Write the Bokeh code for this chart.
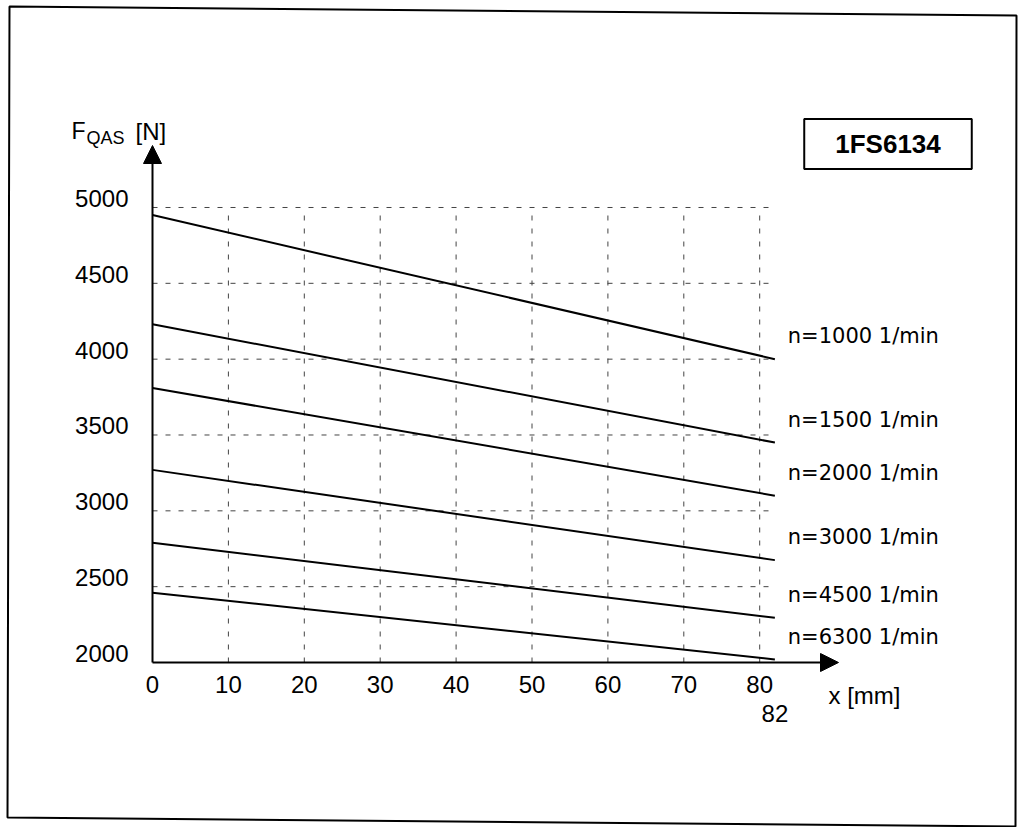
from bokeh.plotting import figure
from bokeh.models import (Range1d, FixedTicker, LinearAxis, Label, Arrow, NormalHead,
                          ColumnDataSource)
from bokeh.core.properties import value
from bokeh.embed import file_html
from bokeh.resources import INLINE

# ---------------- data ----------------
speed_labels = ["n=1000 1/min", "n=1500 1/min", "n=2000 1/min",
                "n=3000 1/min", "n=4500 1/min", "n=6300 1/min"]
x_points = [0, 82]                                   # stroke x [mm]
force_at_0 = [4950, 4230, 3810, 3270, 2790, 2460]    # F_QAS [N] at x = 0
force_at_82 = [4000, 3450, 3100, 2675, 2295, 2020]   # F_QAS [N] at x = 82
x_ticks = [0, 10, 20, 30, 40, 50, 60, 70, 80]
x_end_tick = [82]
y_ticks = [2000, 2500, 3000, 3500, 4000, 4500, 5000]
motor_type = "1FS6134"

# ---------------- layout constants ----------------
W, H = 1022, 827
ORIGIN_X, ORIGIN_Y = 152, 662     # canvas pixel of (x=0, F=2000)
PX_X = 7.59                       # px per mm
PX_Y = 0.15167                    # px per N
y0 = min(y_ticks)
y_top = max(y_ticks)
x_right = max(x_end_tick)


def cx(px):
    return (px - ORIGIN_X) / PX_X


def cy(py):
    return y0 + (ORIGIN_Y - py) / PX_Y


FONT = "Liberation Sans"

p = figure(width=W, height=H,
           x_range=Range1d(cx(0), cx(W)), y_range=Range1d(cy(H), cy(0)),
           x_axis_location=None, y_axis_location=None,
           output_backend="svg", toolbar_location=None,
           min_border=0, min_border_left=0, min_border_right=0,
           min_border_top=0, min_border_bottom=0,
           outline_line_color=None, background_fill_color="white",
           border_fill_color="white")
p.xgrid.visible = False
p.ygrid.visible = False

# label offset range for the y tick labels (they sit just above their grid line)
lab_shift = 9 / PX_Y
p.extra_y_ranges = {"ylab": Range1d(cy(H) - lab_shift, cy(0) - lab_shift)}


def style_axis(ax, standoff):
    ax.axis_line_color = None
    ax.major_tick_line_color = None
    ax.minor_tick_line_color = None
    ax.major_tick_out = 0
    ax.major_tick_in = 0
    ax.major_label_standoff = standoff
    ax.major_label_text_font = FONT
    ax.major_label_text_font_size = "24px"
    ax.major_label_text_color = "black"


xa = LinearAxis(ticker=FixedTicker(ticks=x_ticks), fixed_location=y0)
style_axis(xa, 13)
p.add_layout(xa, "below")

xa2 = LinearAxis(ticker=FixedTicker(ticks=x_end_tick), fixed_location=y0)
style_axis(xa2, 42)
p.add_layout(xa2, "below")

ya = LinearAxis(ticker=FixedTicker(ticks=y_ticks), fixed_location=0, y_range_name="ylab")
style_axis(ya, 24)
p.add_layout(ya, "left")

# ---- dashed grid (limited to data area) ----
vx = [t for t in x_ticks if t > 0]
p.segment(x0=vx, y0=[y0] * len(vx), x1=vx, y1=[y_top] * len(vx),
          line_color="#444444", line_width=1, line_dash="5 8")
hy = [t for t in y_ticks if t > y0]
p.segment(x0=[0] * len(hy), y0=hy, x1=[x_right] * len(hy), y1=hy,
          line_color="#444444", line_width=1, line_dash="5 8")

# ---- axis arrows ----
p.add_layout(Arrow(end=NormalHead(size=18, fill_color="black", line_color="black"),
                   x_start=0, y_start=y0, x_end=0, y_end=cy(145),
                   line_color="black", line_width=2))
p.add_layout(Arrow(end=NormalHead(size=18, fill_color="black", line_color="black"),
                   x_start=0, y_start=y0, x_end=cx(838), y_end=y0,
                   line_color="black", line_width=2))

# ---- curves ----
src = ColumnDataSource(dict(
    xs=[x_points for _ in speed_labels],
    ys=[[a, b] for a, b in zip(force_at_0, force_at_82)],
    lx=[x_right + 1.7 for _ in speed_labels],
    ly=[b + 150 for b in force_at_82],
    txt=speed_labels,
))
p.multi_line(xs="xs", ys="ys", source=src, line_color="black", line_width=2)
p.text(x="lx", y="ly", text="txt", source=src, text_font=value("DejaVu Sans"),
       text_font_size="21px", text_color="black", text_baseline="middle",
       text_align="left")

# ---- titles ----
p.add_layout(Label(x=cx(71), y=cy(130), text="F", text_font=FONT, text_color="black",
                   text_font_size="23px", text_baseline="alphabetic"))
p.add_layout(Label(x=cx(86), y=cy(137), text="QAS", text_font=FONT, text_color="black",
                   text_font_size="18px", text_baseline="alphabetic"))
p.add_layout(Label(x=cx(135), y=cy(131), text="[N]", text_font=FONT, text_color="black",
                   text_font_size="24px", text_baseline="alphabetic"))
p.add_layout(Label(x=cx(828), y=cy(681), text="x [mm]", text_font=FONT,
                   text_color="black", text_font_size="24px", text_baseline="top"))

p.add_layout(Label(x=cx(887.5), y=cy(143.5), text=motor_type,
                   text_font=FONT, text_font_size="26px", text_font_style="bold",
                   text_color="black", text_align="center", text_baseline="middle",
                   border_line_color="black", border_line_width=2,
                   background_fill_color="white", padding=(31, 31, 10, 10)))

# ---- outer frame of the sheet ----
p.patch(x=[cx(9), cx(1016), cx(1015), cx(7)], y=[cy(6), cy(15), cy(826), cy(817)],
        fill_color=None, line_color="black", line_width=2)

open("out.html", "w").write(file_html(p, INLINE))
